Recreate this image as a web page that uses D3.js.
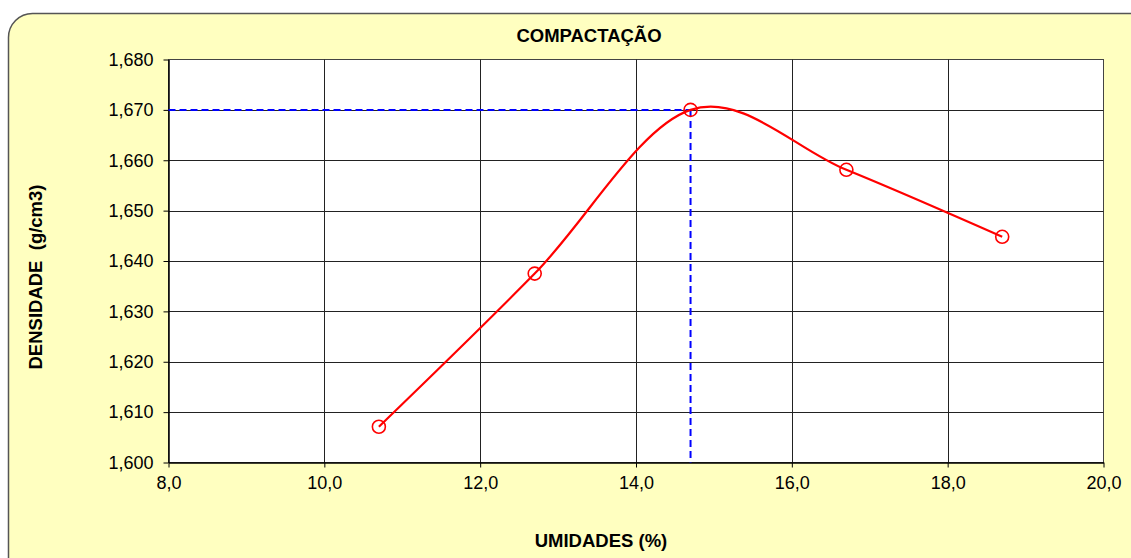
<!DOCTYPE html>
<html>
<head>
<meta charset="utf-8">
<script src="https://cdn.jsdelivr.net/npm/d3@7"></script>
<style>
  html, body { margin: 0; padding: 0; background: #fff; }
  svg { display: block; font-family: "Liberation Sans", Arial, sans-serif; }
</style>
</head>
<body>
<svg id="chart" width="1131" height="558"></svg>
<script>
// Compaction test: moisture (%) vs dry density (g/cm3)
const umidades = [10.7, 12.7, 14.7, 16.7, 18.7];
const densidades = [1.6071, 1.6375, 1.6700, 1.6581, 1.6448];
const umidadeOtima = 14.7;
const densidadeMax = 1.670;
const xTicks = [8, 10, 12, 14, 16, 18, 20];
const yTicks = [1.60, 1.61, 1.62, 1.63, 1.64, 1.65, 1.66, 1.67, 1.68];

const titulo = "COMPACTAÇÃO";
const tituloX = "UMIDADES (%)";
const tituloY = "DENSIDADE  (g/cm3)";

const ptBR = d3.formatLocale({ decimal: ",", thousands: ".", grouping: [3], currency: ["R$", ""] });
const fmtX = ptBR.format(".1f");
const fmtY = ptBR.format(".3f");

const svg = d3.select("#chart");
const W = 1131, H = 558;
const plot = { left: 168.5, right: 1103.5, top: 59.5, bottom: 462.5 };

// chart background panel with rounded corners
svg.append("rect")
  .attr("x", 8.5).attr("y", 13.5)
  .attr("width", W + 40).attr("height", H + 40)
  .attr("rx", 24).attr("ry", 24)
  .attr("fill", "#FFFFC0")
  .attr("stroke", "#555").attr("stroke-width", 1.5);

const x = d3.scaleLinear().domain([8, 20]).range([plot.left, plot.right]);
const y = d3.scaleLinear().domain([1.60, 1.68]).range([plot.bottom, plot.top]);

// plot area
svg.append("rect")
  .attr("x", plot.left).attr("y", plot.top)
  .attr("width", plot.right - plot.left).attr("height", plot.bottom - plot.top)
  .attr("fill", "#fff").attr("stroke", "#444").attr("stroke-width", 1);

// grid
const grid = svg.append("g").attr("stroke", "#222").attr("stroke-width", 1);
grid.selectAll("line.h").data(yTicks.slice(1, -1)).join("line")
  .attr("x1", plot.left).attr("x2", plot.right)
  .attr("y1", d => Math.round(y(d)) + 0.5).attr("y2", d => Math.round(y(d)) + 0.5);
grid.selectAll("line.v").data(xTicks.slice(1, -1)).join("line")
  .attr("y1", plot.top).attr("y2", plot.bottom)
  .attr("x1", d => Math.round(x(d)) + 0.5).attr("x2", d => Math.round(x(d)) + 0.5);

// axes
const xAxis = svg.append("g")
  .attr("transform", `translate(0,${plot.bottom})`)
  .call(d3.axisBottom(x).tickValues(xTicks).tickFormat(fmtX).tickSize(5).tickSizeOuter(0).tickPadding(9));
const yAxis = svg.append("g")
  .attr("transform", `translate(${plot.left},0)`)
  .call(d3.axisLeft(y).tickValues(yTicks).tickFormat(fmtY).tickSize(5).tickSizeOuter(0).tickPadding(10));
[xAxis, yAxis].forEach(a => {
  a.select(".domain").attr("stroke", "#000").attr("stroke-width", 1.5);
  a.selectAll(".tick line").attr("stroke", "#000");
  a.selectAll(".tick text").attr("fill", "#000")
    .style("font-size", "18px").style("font-family", "\"Liberation Sans\", Arial, sans-serif");
});

// optimum moisture guide lines
const guide = svg.append("g")
  .attr("fill", "none").attr("stroke", "#0000FF").attr("stroke-width", 2)
  .attr("stroke-dasharray", "7,4");
guide.append("line")
  .attr("x1", x(8)).attr("x2", x(umidadeOtima))
  .attr("y1", y(densidadeMax)).attr("y2", y(densidadeMax));
guide.append("line")
  .attr("x1", x(umidadeOtima)).attr("x2", x(umidadeOtima))
  .attr("y1", y(densidadeMax)).attr("y2", y(1.60));

// compaction curve
const pontos = umidades.map((u, i) => [u, densidades[i]]);
svg.append("path")
  .datum(pontos)
  .attr("fill", "none").attr("stroke", "#FF0000").attr("stroke-width", 2.2)
  .attr("d", d3.line().x(d => x(d[0])).y(d => y(d[1])).curve(d3.curveCatmullRom.alpha(0)));

svg.append("g").selectAll("circle").data(pontos).join("circle")
  .attr("cx", d => x(d[0])).attr("cy", d => y(d[1])).attr("r", 6.5)
  .attr("fill", "none").attr("stroke", "#FF0000").attr("stroke-width", 1.6);

// titles
svg.append("text")
  .attr("x", 589).attr("y", 42).attr("text-anchor", "middle")
  .style("font-size", "18.5px").style("font-weight", "bold").text(titulo);
svg.append("text")
  .attr("x", 601).attr("y", 547).attr("text-anchor", "middle")
  .style("font-size", "18.5px").style("font-weight", "bold").text(tituloX);
svg.append("text")
  .attr("transform", "translate(42,277) rotate(-90)").attr("text-anchor", "middle")
  .style("font-size", "18.5px").style("font-weight", "bold").attr("xml:space", "preserve").text(tituloY);
</script>
</body>
</html>
